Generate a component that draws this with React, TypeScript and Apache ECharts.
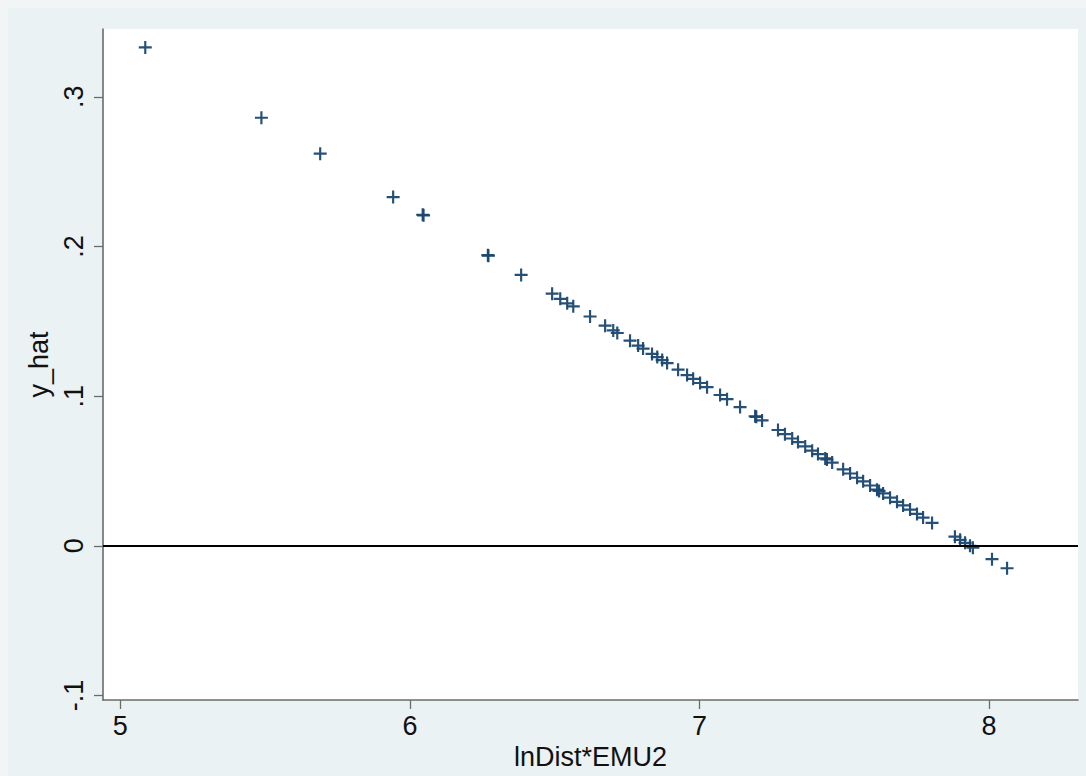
import React, { useEffect, useRef } from "react";
import * as echarts from "echarts";

// x = lnDist*EMU2, y = y_hat
const xValues: number[] = [
  5.086, 5.487, 5.690, 5.942, 6.044, 6.047, 6.269, 6.271, 6.384,
  6.491, 6.519, 6.543, 6.564, 6.622, 6.674, 6.702, 6.716, 6.760, 6.788,
  6.805, 6.836, 6.854, 6.871, 6.888, 6.926, 6.957, 6.978, 7.002, 7.026,
  7.071, 7.095, 7.140, 7.192, 7.196, 7.216, 7.271, 7.295, 7.320, 7.340,
  7.365, 7.389, 7.409, 7.434, 7.440, 7.458, 7.496, 7.520, 7.544, 7.565,
  7.589, 7.613, 7.620, 7.634, 7.658, 7.682, 7.703, 7.727, 7.751, 7.772,
  7.803, 7.882, 7.900, 7.917, 7.934, 7.944, 8.010, 8.062,
];
const yValues: number[] = [
  0.333, 0.286, 0.262, 0.233, 0.2212, 0.2208, 0.1942, 0.1938, 0.181,
  0.1685, 0.165, 0.162, 0.160, 0.1532, 0.1471, 0.1439, 0.1422, 0.1371, 0.1338,
  0.1318, 0.1282, 0.1261, 0.1241, 0.1221, 0.1177, 0.1141, 0.1116, 0.1088, 0.1060,
  0.1008, 0.0980, 0.0927, 0.0866, 0.0862, 0.0838, 0.0774, 0.0746, 0.0717, 0.0693,
  0.0664, 0.0636, 0.0613, 0.0584, 0.0577, 0.0556, 0.0511, 0.0483, 0.0455, 0.0431,
  0.0403, 0.0375, 0.0367, 0.0350, 0.0322, 0.0294, 0.0270, 0.0242, 0.0213, 0.0189,
  0.0153, 0.0061, 0.0040, 0.0020, 0.0000, -0.0012, -0.0089, -0.0150,
];
const xTicks: number[] = [5, 6, 7, 8];
const yTicks: number[] = [-0.1, 0, 0.1, 0.2, 0.3];
const xTitle = "lnDist*EMU2";
const yTitle = "y_hat";

const PLUS = "path://M5,0H7V5H12V7H7V12H5V7H0V5H5Z";
const FONT = "'Liberation Sans', Arial, sans-serif";

function fmtY(v: number): string {
  if (Math.abs(v) < 1e-9) return "0";
  const s = Math.abs(v).toFixed(1).replace(/^0/, "");
  return (v < 0 ? "-" : "") + s;
}

export default function App() {
  const ref = useRef<HTMLDivElement>(null);
  useEffect(() => {
    document.body.style.background = "#F1F5F6";
    if (!ref.current) return;
    const chart = echarts.init(ref.current, null, { renderer: "svg" });
    const data = xValues.map((x, i) => [x, yValues[i]]);
    chart.setOption({
      animation: false,
      backgroundColor: "#EAF2F3",
      grid: {
        left: 95,
        top: 21,
        right: 8,
        bottom: 76,
        show: true,
        backgroundColor: "#ffffff",
        borderWidth: 0,
      },
      xAxis: {
        type: "value",
        min: 4.94,
        max: 8.307,
        name: xTitle,
        nameLocation: "middle",
        nameGap: 42,
        nameTextStyle: { fontFamily: FONT, fontSize: 27, color: "#111" },
        axisLine: { show: true, onZero: false, lineStyle: { color: "#6b6b6b", width: 1.6 } },
        axisTick: { show: true, length: 9, lineStyle: { color: "#6b6b6b", width: 1.3 }, customValues: xTicks },
        axisLabel: {
          customValues: xTicks,
          fontFamily: FONT,
          fontSize: 27,
          color: "#111",
          margin: 12,
        },
        splitLine: { show: false },
      },
      yAxis: {
        type: "value",
        min: -0.103,
        max: 0.3453,
        name: yTitle,
        nameLocation: "middle",
        nameGap: 50,
        nameRotate: 90,
        nameTextStyle: { fontFamily: FONT, fontSize: 27, color: "#111" },
        axisLine: { show: true, onZero: false, lineStyle: { color: "#6b6b6b", width: 1.6 } },
        axisTick: { show: true, length: 9, lineStyle: { color: "#6b6b6b", width: 1.3 }, customValues: yTicks },
        axisLabel: {
          customValues: yTicks,
          rotate: 90,
          fontFamily: FONT,
          fontSize: 27,
          color: "#111",
          margin: 16,
          formatter: (v: number) => fmtY(v),
        },
        splitLine: { show: false },
      },
      series: [
        {
          type: "scatter",
          data,
          symbol: PLUS,
          symbolSize: 13,
          itemStyle: { color: "#1A476F", opacity: 0.95 },
          markLine: {
            silent: true,
            symbol: "none",
            label: { show: false },
            lineStyle: { color: "#000", width: 2, type: "solid" },
            data: [{ yAxis: 0 }],
          },
        },
      ],
    });
    return () => chart.dispose();
  }, []);
  return (
    <div
      ref={ref}
      style={{ position: "absolute", left: 8, top: 8, width: 1078, height: 768 }}
    />
  );
}
